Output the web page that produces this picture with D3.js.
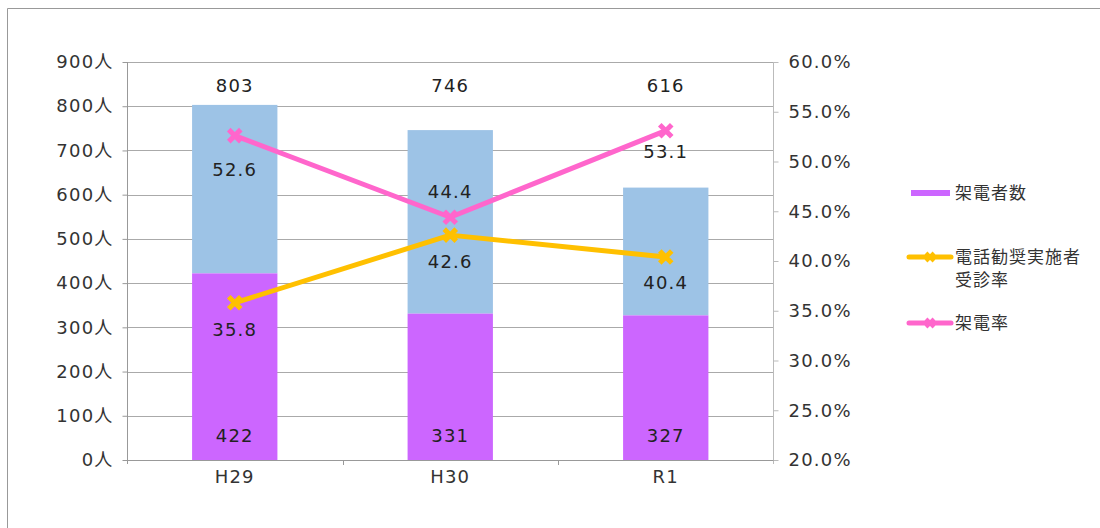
<!DOCTYPE html>
<html><head><meta charset="utf-8">
<script src="https://cdn.jsdelivr.net/npm/d3@7"></script>
<style>
html,body{margin:0;padding:0;background:#fff;}
svg{display:block;}
text{font-family:"DejaVu Sans",sans-serif;}
.cjk{font-family:"Noto Sans CJK JP",sans-serif;}
</style></head>
<body><svg id="c" width="1100" height="528"></svg>
<script>
const categories = ["H29", "H30", "R1"];
const callCount = [422, 331, 327];          // 架電者数
const totalCount = [803, 746, 616];         // 対象者数 (bar total)
const screeningRate = [35.8, 42.6, 40.4];   // 電話勧奨実施者受診率 (%)
const callRate = [52.6, 44.4, 53.1];        // 架電率 (%)
const leftTicks = [0, 100, 200, 300, 400, 500, 600, 700, 800, 900];
const rightTicks = [20, 25, 30, 35, 40, 45, 50, 55, 60];
const legendLabels = [["架電者数"], ["電話勧奨実施者", "受診率"], ["架電率"]];
// label offsets (pixels) for line data labels
const callRateLabelDy = [34, -26, 21];
const screeningLabelDy = [27, 27, 26];

const svg = d3.select("#c");
const W = 1100, H = 528;
const plot = {l: 127, r: 773.5, t: 62, b: 460};
const PURPLE = "#cc66ff", BLUE = "#9dc3e6", ORANGE = "#ffc000", PINK = "#ff66cc";
const FS = "18px", LS = "1.2px";

// outer border
svg.append("path").attr("d", `M7.5,${H} V8.5 H${W}`).attr("fill","none").attr("stroke","#999").attr("stroke-width",1);

const x = d3.scaleBand().domain(categories).range([plot.l, plot.r]).paddingInner(0.604).paddingOuter(0.302);
const xb = d3.scaleBand().domain(categories).range([plot.l, plot.r]);
const yL = d3.scaleLinear().domain([0, 900]).range([plot.b, plot.t]);
const yR = d3.scaleLinear().domain([20, 60]).range([plot.b, plot.t]);

// gridlines
svg.append("g").selectAll("line").data(leftTicks.slice(1)).join("line")
  .attr("x1", plot.l).attr("x2", plot.r)
  .attr("y1", d => Math.round(yL(d)) + 0.5).attr("y2", d => Math.round(yL(d)) + 0.5)
  .attr("stroke", "#aaa").attr("stroke-width", 1);

// bars
const bars = svg.append("g");
categories.forEach((c, i) => {
  bars.append("rect").attr("x", x(c)).attr("width", x.bandwidth())
    .attr("y", yL(totalCount[i])).attr("height", yL(callCount[i]) - yL(totalCount[i]))
    .attr("fill", BLUE);
  bars.append("rect").attr("x", x(c)).attr("width", x.bandwidth())
    .attr("y", yL(callCount[i])).attr("height", yL(0) - yL(callCount[i]))
    .attr("fill", PURPLE);
});

// left axis
const gl = svg.append("g").attr("transform", `translate(${plot.l + 0.5},0)`)
  .call(d3.axisLeft(yL).tickValues(leftTicks).tickSize(5).tickPadding(9).tickFormat(d => d + "人"));
gl.select(".domain").attr("stroke", "#999").attr("d", `M0,${plot.b + 4}V${plot.t}`);
gl.selectAll(".tick line").attr("stroke", "#999");
gl.selectAll(".tick text").attr("fill", "#333").style("font-size", FS).style("letter-spacing", LS)
  .style("font-family", "'DejaVu Sans','Noto Sans CJK JP',sans-serif");

// right axis
const gr = svg.append("g").attr("transform", `translate(${plot.r},0)`)
  .call(d3.axisRight(yR).tickValues(rightTicks).tickSize(5).tickPadding(10).tickFormat(d => d.toFixed(1) + "%"));
gr.select(".domain").attr("stroke", "#bbb").attr("d", `M0,${plot.b + 4}V${plot.t}`);
gr.selectAll(".tick line").attr("stroke", "#bbb");
gr.selectAll(".tick text").attr("fill", "#333").style("font-size", FS).style("letter-spacing", LS);

// bottom axis
const gb = svg.append("g").attr("transform", `translate(0,${plot.b + 0.5})`)
  .call(d3.axisBottom(xb).tickSize(0).tickPadding(10));
gb.select(".domain").attr("stroke", "#999").attr("d", `M${plot.l},0H${plot.r}`);
gb.selectAll(".tick text").attr("fill", "#333").style("font-size", FS).style("letter-spacing", LS);
// category boundary ticks
svg.append("g").selectAll("line").data(categories.slice(1)).join("line")
  .attr("x1", d => Math.round(xb(d)) + 0.5).attr("x2", d => Math.round(xb(d)) + 0.5)
  .attr("y1", plot.b).attr("y2", plot.b + 5).attr("stroke", "#999");

// lines
const cx = c => xb(c) + xb.bandwidth() / 2;
function drawSeries(vals, color) {
  const g = svg.append("g");
  g.append("path").datum(vals)
    .attr("d", d3.line().x((d, i) => cx(categories[i])).y(d => yR(d)))
    .attr("fill", "none").attr("stroke", color).attr("stroke-width", 5).attr("stroke-linejoin", "round");
  vals.forEach((v, i) => {
    const px = cx(categories[i]), py = yR(v), s = 6;
    g.append("path").attr("d", `M${px - s},${py - s}L${px + s},${py + s}M${px - s},${py + s}L${px + s},${py - s}`)
      .attr("stroke", color).attr("stroke-width", 5).attr("fill", "none");
  });
}
drawSeries(callRate, PINK);
drawSeries(screeningRate, ORANGE);

// data labels
const lab = svg.append("g").attr("fill", "#222").style("font-size", FS).style("letter-spacing", LS)
  .attr("text-anchor", "middle");
categories.forEach((c, i) => {
  const px = cx(c);
  lab.append("text").attr("x", px).attr("y", yL(900) + 24).attr("dy", "0.35em").text(totalCount[i]);
  lab.append("text").attr("x", px).attr("y", yL(0) - 24).attr("dy", "0.35em").text(callCount[i]);
  lab.append("text").attr("x", px).attr("y", yR(callRate[i]) + callRateLabelDy[i]).attr("dy", "0.35em").text(callRate[i].toFixed(1));
  lab.append("text").attr("x", px).attr("y", yR(screeningRate[i]) + screeningLabelDy[i]).attr("dy", "0.35em").text(screeningRate[i].toFixed(1));
});

// legend
const lg = svg.append("g");
const legY = [193, 257, 323];
lg.append("rect").attr("x", 911).attr("y", legY[0] - 3).attr("width", 39).attr("height", 6).attr("fill", PURPLE);
[[ORANGE, legY[1]], [PINK, legY[2]]].forEach(([col, y]) => {
  lg.append("line").attr("x1", 909).attr("x2", 951).attr("y1", y).attr("y2", y).attr("stroke", col).attr("stroke-width", 5).attr("stroke-linecap", "round");
  const px = 930, s = 4;
  lg.append("path").attr("d", `M${px - s},${y - s}L${px + s},${y + s}M${px - s},${y + s}L${px + s},${y - s}`).attr("stroke", col).attr("stroke-width", 4);
});
legendLabels.forEach((lines, i) => {
  lines.forEach((ln, j) => {
    lg.append("text").attr("class", "cjk").attr("x", 955).attr("y", legY[i] + j * 23).attr("dy", "0.35em")
      .attr("fill", "#333").style("font-size", "17px").style("letter-spacing", "1px").text(ln);
  });
});
</script></body></html>
